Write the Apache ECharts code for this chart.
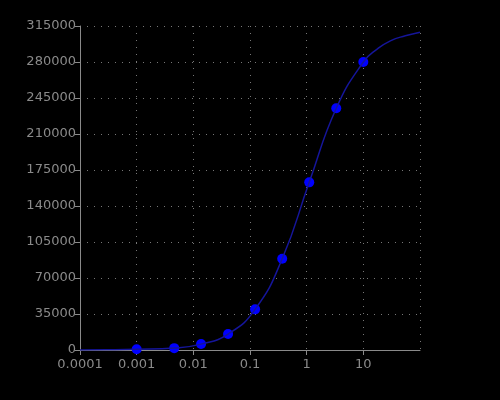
<!DOCTYPE html>
<html>
<head>
<meta charset="utf-8">
<script src="https://cdn.jsdelivr.net/npm/echarts@6/dist/echarts.min.js"></script>
<style>
  html, body { margin: 0; padding: 0; background: #000; }
  #chart { width: 500px; height: 400px; }
</style>
</head>
<body>
<div id="chart"></div>
<script>
// measured points
const doseX = [0.001, 0.0046, 0.0137, 0.041, 0.123, 0.37, 1.11, 3.33, 10]
const signalY = [800, 1800, 5800, 15500, 39500, 88700, 163000, 235000, 280000]

// fitted curve
const curveX = [0.0001, 0.0003, 0.001, 0.0046, 0.0137, 0.041, 0.123, 0.37, 1.11, 3.33, 10, 18, 30, 55, 100]
const curveY = [0, 200, 700, 1900, 5700, 15500, 39500, 88700, 163000, 235000, 280000, 293000, 300600, 305500, 309000]

const yTicks = { min: 0, max: 315000, interval: 35000 }

const chart = echarts.init(document.getElementById('chart'))
const grey = '#8a8a8a'
const font = 'DejaVu Sans'

const option = {
  backgroundColor: '#000',
  animation: false,
  grid: { left: 80, right: 80, top: 26, bottom: 50 },
  xAxis: {
    type: 'log',
    logBase: 10,
    min: 0.0001,
    max: 100,
    axisLine: { lineStyle: { color: grey } },
    axisTick: { show: true, length: 5, lineStyle: { color: grey } },
    axisLabel: {
      color: grey,
      fontFamily: font,
      fontSize: 13,
      showMaxLabel: false,
      formatter: v => String(v)
    },
    splitLine: { show: true, lineStyle: { color: '#777', type: [1, 6] } }
  },
  yAxis: {
    type: 'value',
    min: yTicks.min,
    max: yTicks.max,
    interval: yTicks.interval,
    axisLine: { show: true, lineStyle: { color: grey } },
    axisTick: { show: true, length: 5, lineStyle: { color: grey } },
    axisLabel: { color: grey, fontFamily: font, fontSize: 13, margin: 4, formatter: v => String(v) },
    splitLine: { show: true, lineStyle: { color: '#777', type: [1, 6] } }
  },
  series: [
    {
      type: 'line',
      data: curveX.map((x, i) => [x, curveY[i]]),
      smooth: true,
      showSymbol: false,
      lineStyle: { color: '#15159a', width: 1.5 }
    },
    {
      type: 'scatter',
      data: doseX.map((x, i) => [x, signalY[i]]),
      symbolSize: 10,
      itemStyle: { color: '#0000ff', opacity: 1 }
    }
  ]
}
chart.setOption(option)
</script>
</body>
</html>
